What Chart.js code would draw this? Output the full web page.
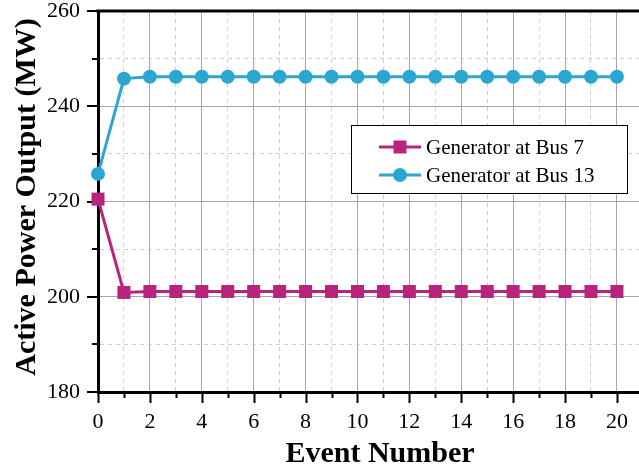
<!DOCTYPE html>
<html>
<head>
<meta charset="utf-8">
<script src="https://cdn.jsdelivr.net/npm/chart.js@4/dist/chart.umd.min.js"></script>
<style>
  html, body { margin: 0; padding: 0; background: #fff; overflow: hidden; }
  #wrap { width: 639px; height: 471px; }
</style>
</head>
<body>
<div id="wrap"><canvas id="c" width="639" height="471"></canvas></div>
<script>
// Event index along the horizontal axis
const events = [0, 1, 2, 3, 4, 5, 6, 7, 8, 9, 10, 11, 12, 13, 14, 15, 16, 17, 18, 19, 20];
// Active power output of each generator after every event (MW)
const bus7 = [220.5, 200.9, 201.1, 201.1, 201.1, 201.1, 201.1, 201.1, 201.1, 201.1, 201.1,
              201.1, 201.1, 201.1, 201.1, 201.1, 201.1, 201.1, 201.1, 201.1, 201.1];
const bus13 = [225.8, 245.8, 246.2, 246.2, 246.2, 246.2, 246.2, 246.2, 246.2, 246.2, 246.2,
               246.2, 246.2, 246.2, 246.2, 246.2, 246.2, 246.2, 246.2, 246.2, 246.2];
const seriesNames = ['Generator at Bus 7', 'Generator at Bus 13'];
const yTickLabels = [180, 200, 220, 240, 260];
const xTitle = 'Event Number';
const yTitle = 'Active Power Output (MW)';

const SERIF = "'Liberation Serif', 'Times New Roman', serif";
const C7 = '#B8237C';
const C13 = '#2BA6D0';

const MAJOR_GRID = '#a6a6a6';
const MINOR_GRID = '#cfcfcf';

// Keep the plot area edges fixed regardless of label overhang
function noLabelPadding(scale) {
  scale.paddingLeft = 0;
  scale.paddingRight = 0;
  scale.paddingTop = 0;
  scale.paddingBottom = 0;
}

// Tick marks, top frame line, axis titles and the boxed legend
const decor = {
  id: 'decor',
  beforeDatasetsDraw(chart) {
    const { ctx, chartArea: a, scales: { x, y } } = chart;
    ctx.save();
    ctx.strokeStyle = '#000';
    ctx.lineWidth = 2;
    ctx.beginPath();
    x.ticks.forEach(t => {
      const px = Math.round(x.getPixelForValue(t.value)) + 0.5;
      const len = t.value % 2 === 0 ? 11 : 6;
      ctx.moveTo(px, a.bottom);
      ctx.lineTo(px, a.bottom + len);
    });
    y.ticks.forEach(t => {
      const py = Math.round(y.getPixelForValue(t.value));
      const len = yTickLabels.includes(t.value) ? 11 : 6;
      ctx.moveTo(a.left, py);
      ctx.lineTo(a.left - len, py);
    });
    ctx.stroke();
    ctx.lineWidth = 3;
    ctx.beginPath();
    ctx.moveTo(a.left - 1.5, a.top);
    ctx.lineTo(a.right, a.top);
    ctx.stroke();

    // axis titles
    ctx.fillStyle = '#000';
    ctx.font = 'bold 30px ' + SERIF;
    ctx.textAlign = 'center';
    ctx.textBaseline = 'alphabetic';
    ctx.fillText(xTitle, 380, 462);
    ctx.translate(35, 197);
    ctx.rotate(-Math.PI / 2);
    ctx.fillText(yTitle, 0, 0);
    ctx.restore();
  },
  afterDraw(chart) {
    const { ctx } = chart;
    const box = { x: 351.5, y: 125.5, w: 276, h: 68 };
    ctx.save();
    ctx.fillStyle = '#fff';
    ctx.fillRect(box.x, box.y, box.w, box.h);
    ctx.strokeStyle = '#000';
    ctx.lineWidth = 1;
    ctx.strokeRect(box.x, box.y, box.w, box.h);
    const rows = [147, 175];
    chart.data.datasets.forEach((ds, i) => {
      const ry = rows[i];
      ctx.strokeStyle = ds.borderColor;
      ctx.lineWidth = 3;
      ctx.beginPath();
      ctx.moveTo(379, ry);
      ctx.lineTo(421, ry);
      ctx.stroke();
      ctx.fillStyle = ds.backgroundColor;
      if (ds.pointStyle === 'rect') {
        ctx.fillRect(400 - 6.5, ry - 6.5, 13, 13);
      } else {
        ctx.beginPath();
        ctx.arc(400, ry, 7, 0, Math.PI * 2);
        ctx.fill();
      }
      ctx.fillStyle = '#000';
      ctx.font = '21px ' + SERIF;
      ctx.textBaseline = 'middle';
      ctx.textAlign = 'left';
      ctx.fillText(ds.label, 426, ry + 1);
    });
    ctx.restore();
  }
};

new Chart(document.getElementById('c'), {
  type: 'line',
  data: {
    labels: events,
    datasets: [
      {
        label: seriesNames[0],
        data: events.map((e, i) => ({ x: e, y: bus7[i] })),
        borderColor: C7,
        backgroundColor: C7,
        borderWidth: 3,
        pointStyle: 'rect',
        pointRadius: 9.2,
        pointHoverRadius: 9.2,
        pointBorderWidth: 0,
        clip: false
      },
      {
        label: seriesNames[1],
        data: events.map((e, i) => ({ x: e, y: bus13[i] })),
        borderColor: C13,
        backgroundColor: C13,
        borderWidth: 3,
        pointStyle: 'circle',
        pointRadius: 7,
        pointHoverRadius: 7,
        pointBorderWidth: 0,
        clip: false
      }
    ]
  },
  options: {
    responsive: false,
    animation: false,
    events: [],
    layout: { autoPadding: false, padding: { top: 11, right: 0, left: 0, bottom: 0 } },
    plugins: { legend: { display: false }, tooltip: { enabled: false } },
    scales: {
      x: {
        type: 'linear',
        min: 0,
        max: 20.85,
        afterBuildTicks(scale) {
          scale.ticks = scale.ticks.filter(t => Number.isInteger(t.value));
        },
        afterFit(scale) { scale.height = 79; noLabelPadding(scale); },
        ticks: {
          stepSize: 1,
          includeBounds: false,
          autoSkip: false,
          maxRotation: 0,
          padding: 6,
          color: '#000',
          font: { family: SERIF, size: 22 },
          callback: v => (v % 2 === 0 ? String(v) : '')
        },
        grid: {
          drawTicks: true,
          tickLength: 11,
          tickColor: 'rgba(0,0,0,0)',
          lineWidth: 1,
          color: ctx => (ctx.tick && ctx.tick.value % 2 === 0 ? MAJOR_GRID : MINOR_GRID)
        },
        border: {
          display: true,
          color: '#000',
          width: 3,
          dash: ctx => (ctx.tick && ctx.tick.value % 2 !== 0 ? [4, 4] : [])
        },
        title: { display: false }
      },
      y: {
        min: 180,
        max: 260,
        afterFit(scale) { scale.width = 98; noLabelPadding(scale); },
        ticks: {
          stepSize: 10,
          padding: 7,
          color: '#000',
          font: { family: SERIF, size: 22 },
          callback: v => (yTickLabels.includes(v) ? String(v) : '')
        },
        grid: {
          drawTicks: true,
          tickLength: 11,
          tickColor: 'rgba(0,0,0,0)',
          lineWidth: 1,
          color: ctx => (ctx.tick && yTickLabels.includes(ctx.tick.value) ? MAJOR_GRID : MINOR_GRID)
        },
        border: {
          display: true,
          color: '#000',
          width: 3,
          dash: ctx => (ctx.tick && !yTickLabels.includes(ctx.tick.value) ? [4, 4] : [])
        },
        title: { display: false }
      }
    }
  },
  plugins: [decor]
});
</script>
</body>
</html>
